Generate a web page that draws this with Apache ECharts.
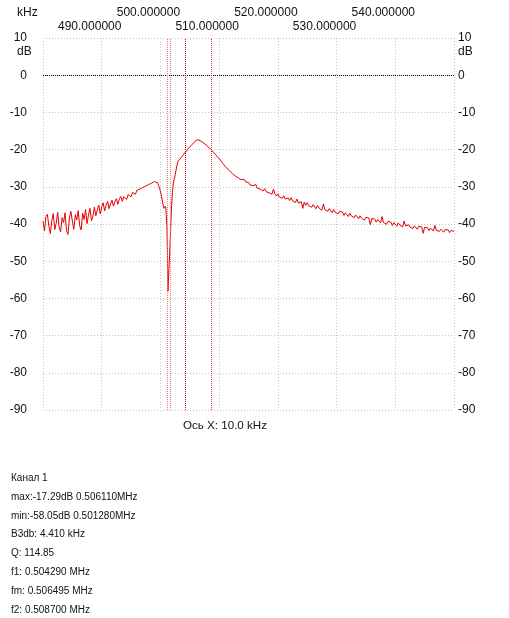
<!DOCTYPE html>
<html>
<head>
<meta charset="utf-8">
<script src="https://cdn.jsdelivr.net/npm/echarts/dist/echarts.min.js"></script>
<style>
html,body{margin:0;padding:0;background:#fff;}
#chart{width:509px;height:618px;}
</style>
</head>
<body>
<div id="chart"></div>
<script>
// ---- data (kHz / dB) ----
const leftStartKHz = 480, leftStepKHz = 0.25;
const leftDb = [
  -39.2,-41.8,-38.0,-37.4,
  -40.6,-42.6,-39.1,-37.2,
  -41.5,-39.8,-36.9,-40.9,
  -42.1,-38.3,-39.6,-37.0,
  -41.7,-42.8,-38.4,-36.6,
  -39.2,-41.4,-37.5,-38.9,
  -36.4,-40.5,-41.6,-37.1,
  -38.8,-36.1,-39.9,-37.6,
  -35.8,-39.2,-37.9,-35.5,
  -37.8,-36.2,-34.9,-37.3,
  -35.4,-34.3,-36.5,-35.0,
  -33.9,-35.9,-34.6,-33.6,
  -35.2,-33.9,-33.2,-34.7,
  -33.3,-32.6,-33.9,-32.7,
  -32.3,-33.4,-32.1,-31.8,
  -32.7,-31.5,-31.3,-32.0,
  -30.9,-31.4,-30.6,-30.8,
  -30.2,-30.6,-29.8,-29.9,
  -29.4,-29.5,-29.0,-28.9,
  -28.6
];
const notchKHz = [499.25,499.5,499.75,500.0,500.2,500.4,500.6,500.75,500.9,501.0,
  501.1,501.2,501.28,501.35,501.45,501.6,501.75,501.9,502.05,502.2,502.4,502.65,502.8];
const notchDb = [-28.4,-28.9,-29.9,-31.2,-32.6,-34.4,-35.8,-36.3,-35.2,-34.9,
  -40.5,-48.0,-58.05,-55.5,-52.0,-47.0,-41.0,-35.0,-31.5,-29.0,-27.6,-25.6,-24.4];
const rightStartKHz = 503, rightStepKHz = 0.25;
const rightDb = [
  -23.1,-22.6,-22.2,-21.7,
  -21.2,-20.8,-20.3,-19.7,
  -19.2,-18.9,-18.5,-18.0,
  -17.6,-17.3,-17.4,-17.6,
  -17.8,-18.1,-18.4,-18.7,
  -19.0,-19.4,-19.8,-20.2,
  -20.6,-21.1,-21.5,-22.0,
  -22.5,-22.9,-23.4,-24.0,
  -24.4,-24.9,-25.2,-25.7,
  -26.0,-26.4,-26.5,-27.1,
  -27.2,-27.6,-27.5,-28.1,
  -28.3,-28.0,-28.7,-28.9,
  -28.8,-29.5,-29.1,-29.7,
  -29.9,-29.4,-30.4,-30.0,
  -30.6,-30.3,-31.1,-30.5,
  -31.3,-30.9,-31.6,-31.2,
  -32.0,-30.6,-31.9,-32.5,
  -31.9,-32.7,-32.3,-33.1,
  -32.4,-33.3,-32.8,-33.0,
  -33.7,-32.9,-33.8,-33.4,
  -34.2,-33.3,-34.4,-33.9,
  -34.0,-35.8,-34.1,-35.0,
  -34.3,-35.1,-34.7,-35.5,
  -34.8,-35.3,-35.9,-35.0,
  -35.7,-35.4,-36.3,-34.6,
  -36.1,-35.8,-36.6,-35.9,
  -36.4,-37.0,-36.1,-36.8,
  -36.5,-37.3,-36.6,-37.1,
  -36.8,-37.7,-37.0,-37.4,
  -38.0,-37.1,-37.8,-37.5,
  -38.3,-37.6,-38.0,-38.6,
  -37.8,-38.4,-38.1,-39.0,
  -38.2,-38.7,-38.4,-40.2,
  -38.5,-39.0,-38.7,-39.5,
  -38.8,-39.3,-39.7,-38.0,
  -39.6,-39.2,-40.1,-39.3,
  -39.8,-39.5,-40.4,-39.6,
  -40.0,-40.6,-39.7,-40.3,
  -40.0,-40.8,-39.2,-40.5,
  -41.0,-40.2,-40.8,-40.4,
  -41.2,-40.5,-40.9,-41.4,
  -40.6,-41.1,-40.8,-42.5,
  -40.9,-41.3,-41.0,-41.8,
  -41.1,-41.5,-41.9,-40.4,
  -41.7,-41.3,-42.0,-41.4,
  -41.8,-42.2,-41.5,-42.0,
  -41.6,-42.3,-41.7,-42.1,
  -42.0
];
const xTicksRow1 = [500, 520, 540];
const xTicksRow2 = [490, 510, 530];
const markerKHz = [501.2, 501.6, 504.29, 508.70];
const markerColors = ['#f07878', '#f07878', '#d00000', '#f03030'];
const infoLines = [
  'Канал 1',
  'max:-17.29dB 0.506110MHz',
  'min:-58.05dB 0.501280MHz',
  'B3db: 4.410 kHz',
  'Q: 114.85',
  'f1: 0.504290 MHz',
  'fm: 0.506495 MHz',
  'f2: 0.508700 MHz'
];

// ---- build series points ----
const points = [];
leftDb.forEach((v, i) => points.push([leftStartKHz + i * leftStepKHz, v]));
notchDb.forEach((v, i) => points.push([notchKHz[i], v]));
rightDb.forEach((v, i) => points.push([rightStartKHz + i * rightStepKHz, v]));

const FONT = 'Liberation Sans';
const TXT = '#111';
const gridLine = { show: true, lineStyle: { color: '#c4c4c4', type: [1, 2], width: 1 } };

const chart = echarts.init(document.getElementById('chart'), null, { renderer: 'canvas' });

const graphics = [
  { type: 'text', left: 17, top: 7, style: { text: 'kHz', fill: TXT, font: '12px "' + FONT + '"' } },
  { type: 'text', left: 17, top: 46, style: { text: 'dB', fill: TXT, font: '12px "' + FONT + '"' } },
  { type: 'text', left: 458, top: 46, style: { text: 'dB', fill: TXT, font: '12px "' + FONT + '"' } },
  { type: 'text', left: 183, top: 420, style: { text: 'Ось X: 10.0 kHz', fill: TXT, font: '11.6px "' + FONT + '"' } }
];
infoLines.forEach((t, i) => {
  graphics.push({ type: 'text', left: 11, top: 473 + i * 18.9,
    style: { text: t, fill: TXT, font: '10px "' + FONT + '"' } });
});

const series = [
  {
    type: 'line', xAxisIndex: 0, yAxisIndex: 0, data: points,
    showSymbol: false, symbol: 'none', smooth: false,
    lineStyle: { color: '#e60000', width: 1 },
    silent: true, z: 3,
    markLine: {
      silent: true, symbol: 'none', label: { show: false },
      lineStyle: { color: '#000', type: [1, 1], width: 1 },
      data: [{ yAxis: 0 }]
    }
  }
];
markerKHz.forEach((f, i) => {
  series.push({
    type: 'line', xAxisIndex: 0, yAxisIndex: 0, data: [], silent: true, z: 2,
    markLine: {
      silent: true, symbol: 'none', label: { show: false }, animation: false,
      lineStyle: { color: markerColors[i], type: [1, 1], width: 1, opacity: 1 },
      data: [{ xAxis: f }]
    }
  });
});

const option = {
  animation: false,
  backgroundColor: '#fff',
  grid: { left: 43, right: 55, top: 38, bottom: 208, containLabel: false },
  xAxis: [
    {
      type: 'value', min: 480, max: 550, interval: 10, position: 'top',
      axisLine: { show: false }, axisTick: { show: false },
      splitLine: gridLine,
      axisLabel: {
        show: true, margin: 5, fontFamily: FONT, fontSize: 12, color: TXT,
        padding: [0, 24, 0, 0], hideOverlap: false,
        formatter: v => xTicksRow2.includes(Math.round(v)) ? Number(v).toFixed(6) : ''
      }
    },
    {
      type: 'value', min: 480, max: 550, interval: 10, position: 'top', offset: 14,
      axisLine: { show: false }, axisTick: { show: false }, splitLine: { show: false },
      axisLabel: {
        show: true, margin: 5, fontFamily: FONT, fontSize: 12, color: TXT,
        padding: [0, 24, 0, 0], hideOverlap: false,
        formatter: v => xTicksRow1.includes(Math.round(v)) ? Number(v).toFixed(6) : ''
      }
    }
  ],
  yAxis: [
    {
      type: 'value', min: -90, max: 10, interval: 10, position: 'left',
      axisLine: { show: false }, axisTick: { show: false },
      splitLine: gridLine,
      axisLabel: { margin: 16, fontFamily: FONT, fontSize: 12, color: TXT }
    },
    {
      type: 'value', min: -90, max: 10, interval: 10, position: 'right',
      axisLine: { show: false }, axisTick: { show: false }, splitLine: { show: false },
      axisLabel: { margin: 4, fontFamily: FONT, fontSize: 12, color: TXT }
    }
  ],
  series: series,
  graphic: graphics
};
chart.setOption(option);
</script>
</body>
</html>
